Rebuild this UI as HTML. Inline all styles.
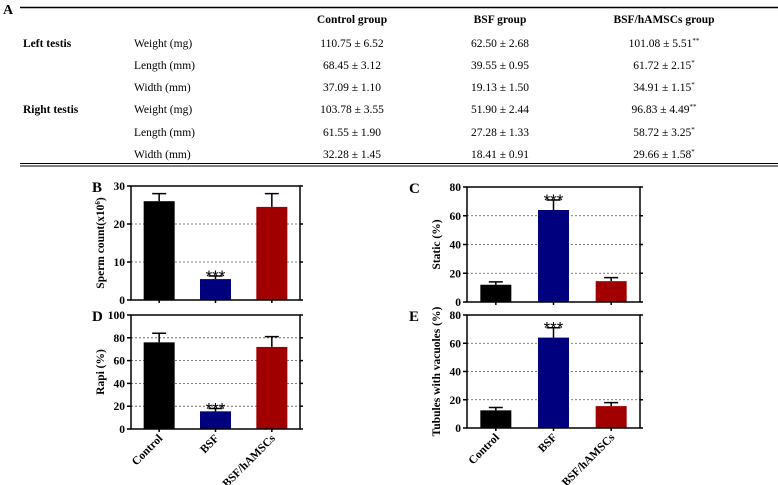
<!DOCTYPE html>
<html><head><meta charset="utf-8"><style>
body{margin:0;background:#fff;width:778px;height:485px;overflow:hidden}
svg{display:block;font-family:"Liberation Serif",serif}
</style></head><body>
<svg id="s" width="778" height="485">
<g font-size="11.5">
<text x="3" y="14" font-weight="bold" font-size="14">A</text>
<line x1="20" y1="7.5" x2="778" y2="7.5" stroke="#000" stroke-width="1.5"/>
<g font-weight="bold" text-anchor="middle"><text x="352" y="23">Control group</text><text x="500" y="23">BSF group</text><text x="664" y="23">BSF/hAMSCs group</text></g>
<g font-weight="bold"><text x="23" y="47">Left testis</text><text x="23" y="113">Right testis</text></g>
<g><text x="134" y="47">Weight (mg)</text><text x="134" y="69">Length (mm)</text><text x="134" y="91">Width (mm)</text><text x="134" y="113">Weight (mg)</text><text x="134" y="136">Length (mm)</text><text x="134" y="158">Width (mm)</text></g>
<g text-anchor="middle">
<text x="352" y="47">110.75 ± 6.52</text><text x="500" y="47">62.50 ± 2.68</text><text x="664" y="47">101.08 ± 5.51<tspan font-size="7" dy="-4">**</tspan></text>
<text x="352" y="69">68.45 ± 3.12</text><text x="500" y="69">39.55 ± 0.95</text><text x="664" y="69">61.72 ± 2.15<tspan font-size="7" dy="-4">*</tspan></text>
<text x="352" y="91">37.09 ± 1.10</text><text x="500" y="91">19.13 ± 1.50</text><text x="664" y="91">34.91 ± 1.15<tspan font-size="7" dy="-4">*</tspan></text>
<text x="352" y="113">103.78 ± 3.55</text><text x="500" y="113">51.90 ± 2.44</text><text x="664" y="113">96.83 ± 4.49<tspan font-size="7" dy="-4">**</tspan></text>
<text x="352" y="136">61.55 ± 1.90</text><text x="500" y="136">27.28 ± 1.33</text><text x="664" y="136">58.72 ± 3.25<tspan font-size="7" dy="-4">*</tspan></text>
<text x="352" y="158">32.28 ± 1.45</text><text x="500" y="158">18.41 ± 0.91</text><text x="664" y="158">29.66 ± 1.58<tspan font-size="7" dy="-4">*</tspan></text>
</g>
<line x1="20" y1="163.5" x2="778" y2="163.5" stroke="#000" stroke-width="1"/>
<line x1="20" y1="166" x2="778" y2="166" stroke="#000" stroke-width="1"/>
</g>
</svg>
<script>
const categories=["Control","BSF","BSF/hAMSCs"];
const spermMeans=[26,5.5,24.5], spermErr=[2,0.8,3.5];
const staticMeans=[12,64,14.5], staticErr=[2,7,2.5];
const rapiMeans=[76,15.5,72], rapiErr=[8,2.5,9];
const vacMeans=[12.5,64,15.5], vacErr=[2,7,2.5];
const spermTicks=[0,10,20,30], pctTicks100=[0,20,40,60,80,100], pctTicks80=[0,20,40,60,80];
const sigFlags=[false,true,false];
const colors=["#000","#00007f","#a00000"];
const NS="http://www.w3.org/2000/svg", svg=document.getElementById('s');
function mk(t,a,p){const e=document.createElementNS(NS,t);for(const k in a)e.setAttribute(k,a[k]);(p||svg).appendChild(e);return e;}
function panel(o){
  const g=mk('g',{});
  
  
  const max=o.ticks[o.ticks.length-1];
  const y=v=>o.b-(v/max)*(o.b-o.t);
  const bw=(o.r-o.l)/3;
  const x=i=>o.l+bw*(i+0.5);
  const lb=mk('text',{x:o.lx,y:o.t+6,'font-size':15,'font-weight':'bold'},g);lb.textContent=o.id.toUpperCase();
  
  
  o.ticks.forEach(v=>{
    if(v>0&&v<max){const gl=mk('line',{x1:o.l,x2:o.r,y1:y(v),y2:y(v),stroke:'#555','stroke-dasharray':'2,2','stroke-width':0.8},g);
      }
    mk('line',{x1:o.l-4,x2:o.l,y1:y(v),y2:y(v),stroke:'#000','stroke-width':1.5},g);
    mk('line',{x1:o.r,x2:o.r+3,y1:y(v),y2:y(v),stroke:'#000','stroke-width':1.5},g);
    const t=mk('text',{x:o.l-6,y:y(v)+4,'font-size':11.5,'font-weight':'bold','text-anchor':'end'},g);t.textContent=v;
    
  });
  o.m.forEach((v,i)=>{
    const cx=x(i),w=31;
    const eb=mk('path',{d:`M${cx} ${y(v)}V${y(v+o.e[i])}M${cx-7} ${y(v+o.e[i])}H${cx+7}`,stroke:'#000','stroke-width':1.5,fill:'none'},g);
    
    const r=mk('rect',{x:cx-w/2,y:y(v),width:w,height:o.b-y(v),fill:colors[i]},g);
    
    
    mk('line',{x1:cx,x2:cx,y1:o.b,y2:o.b+3,stroke:'#000','stroke-width':1.5},g);
    if(sigFlags[i]){const s=mk('text',{x:cx,y:y(v+o.e[i])+6,'font-size':17,'text-anchor':'middle','font-family':'Liberation Sans'},g);s.textContent='***';
      }
    if(o.xl){const t=mk('text',{x:cx+4,y:o.b+10,'font-size':11.5,'font-weight':'bold','text-anchor':'end',transform:`rotate(-45 ${cx+4} ${o.b+10})`},g);t.textContent=categories[i];
      }
  });
  const fr=mk('rect',{x:o.l,y:o.t,width:o.r-o.l,height:o.b-o.t,fill:'none',stroke:'#000','stroke-width':1.5},g);
  
  const cy=(o.t+o.b)/2,tx=o.l-27;
  const yt=mk('text',{x:tx,y:cy,'font-size':11.5,'font-weight':'bold','text-anchor':'middle',transform:`rotate(-90 ${tx} ${cy})`},g);
  yt.innerHTML=o.yt;
  
}
panel({id:'b',l:131,r:300,t:186,b:300,lx:92,ticks:spermTicks,m:spermMeans,e:spermErr,yt:'Sperm count(x10<tspan font-size="7" dy="-4">6</tspan><tspan dy="4">)</tspan>'});
panel({id:'d',l:131,r:300,t:315,b:429,lx:92,ticks:pctTicks100,m:rapiMeans,e:rapiErr,yt:'Rapi (%)',xl:true});
panel({id:'c',l:467,r:640,t:187,b:302,lx:409,ticks:pctTicks80,m:staticMeans,e:staticErr,yt:'Static (%)'});
panel({id:'e',l:467,r:640,t:315,b:428,lx:409,ticks:pctTicks80,m:vacMeans,e:vacErr,yt:'Tubules with vacuoles (%)',xl:true});
</script>
</body></html>
